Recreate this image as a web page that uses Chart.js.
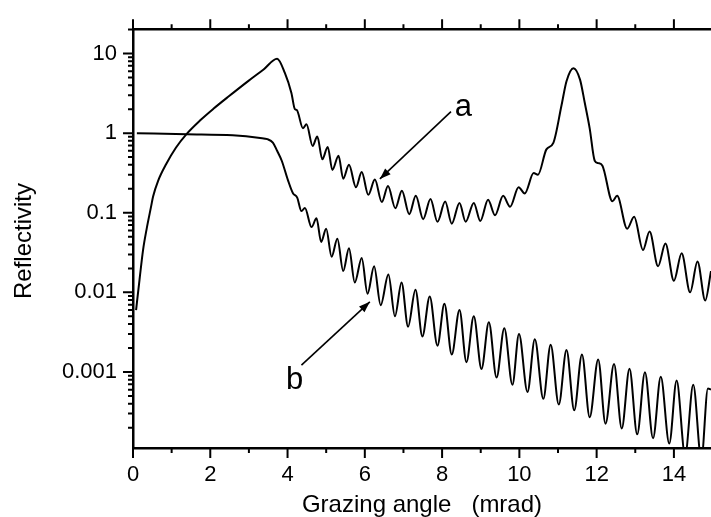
<!DOCTYPE html>
<html>
<head>
<meta charset="utf-8">
<title>Reflectivity vs grazing angle</title>
<script src="https://cdn.jsdelivr.net/npm/chart.js@4.4.1/dist/chart.umd.min.js"></script>
<style>
  html, body { margin: 0; padding: 0; background: #fff; }
  canvas { display: block; }
</style>
</head>
<body>
<canvas id="reflChart" width="711" height="517"></canvas>
<script>
// curve a
const angleA = [0.08, 0.17, 0.26, 0.35, 0.47, 0.52, 0.65, 0.86, 1.11, 1.39, 1.74, 2.08, 2.48, 2.98, 3.38, 3.73,
  3.93, 4.10, 4.19, 4.24, 4.40, 4.49, 4.65, 4.77, 4.90, 5.04, 5.16, 5.32, 5.44, 5.59, 5.77, 5.92, 6.09, 6.26,
  6.44, 6.60, 6.79, 6.96, 7.15, 7.32, 7.51, 7.70, 7.88, 8.08, 8.25, 8.45, 8.61, 8.82, 8.99, 9.19, 9.37, 9.58,
  9.76, 9.98, 10.14, 10.37, 10.48, 10.70, 10.88, 11.09, 11.22, 11.40, 11.57, 11.69, 11.82, 11.95, 12.04, 12.15,
  12.41, 12.53, 12.79, 12.97, 13.20, 13.37, 13.59, 13.78, 14.00, 14.20, 14.42, 14.61, 14.81, 14.96];
const reflA = [0.006, 0.0146, 0.034, 0.0615, 0.121, 0.16, 0.252, 0.41, 0.656, 0.98, 1.45, 2.02, 2.9, 4.5, 6.3, 8.6,
  5.7, 3.2, 2.0, 1.95, 1.15, 1.29, 0.69, 0.91, 0.47, 0.67, 0.345, 0.52, 0.268, 0.40, 0.209, 0.324, 0.168, 0.261,
  0.136, 0.217, 0.114, 0.189, 0.096, 0.163, 0.083, 0.149, 0.077, 0.138, 0.073, 0.133, 0.077, 0.133, 0.079, 0.146, 0.093, 0.163,
  0.119, 0.209, 0.175, 0.315, 0.30, 0.625, 0.755, 2.22, 4.49, 6.55, 4.7, 2.44, 1.15, 0.45, 0.42, 0.39,
  0.139, 0.163, 0.063, 0.089, 0.034, 0.058, 0.0213, 0.041, 0.014, 0.031, 0.01, 0.0245, 0.0079, 0.0185];

// curve b
const angleB = [0.10, 1.39, 2.58, 3.29, 3.48, 3.62, 3.73, 3.85, 4.01, 4.14, 4.25, 4.36, 4.45, 4.62, 4.75, 4.87,
  5.00, 5.14, 5.29, 5.44, 5.59, 5.74, 5.92, 6.07, 6.24, 6.41, 6.61, 6.78, 6.95, 7.12, 7.31, 7.49, 7.68, 7.88,
  8.06, 8.25, 8.45, 8.63, 8.82, 9.02, 9.21, 9.41, 9.61, 9.82, 9.99, 10.21, 10.40, 10.62, 10.81, 11.02, 11.22,
  11.42, 11.62, 11.82, 12.04, 12.23, 12.45, 12.65, 12.85, 13.05, 13.25, 13.46, 13.66, 13.88, 14.07, 14.29,
  14.50, 14.71, 14.88, 14.96];
const reflB = [1.0, 0.97, 0.94, 0.87, 0.84, 0.76, 0.6, 0.45, 0.257, 0.176, 0.155, 0.105, 0.115, 0.066, 0.085, 0.043,
  0.063, 0.028, 0.047, 0.0185, 0.0357, 0.0133, 0.027, 0.0096, 0.0213, 0.0069, 0.0168, 0.005, 0.0133, 0.0037, 0.0108, 0.0028, 0.0089, 0.00214,
  0.0072, 0.00166, 0.006, 0.00133, 0.005, 0.00109, 0.0042, 0.00085, 0.00355, 0.00069, 0.003, 0.00056, 0.00257, 0.00046, 0.0022, 0.00039, 0.00189,
  0.00033, 0.00166, 0.00027, 0.00144, 0.000224, 0.00126, 0.000195, 0.0011, 0.000165, 0.00099, 0.000147, 0.00087, 0.000126, 0.00078, 0.00009,
  0.00069, 0.00008, 0.00062, 0.0006];

// axes
const xLabelTicks = [0, 2, 4, 6, 8, 10, 12, 14];
const yLabelTicks = [10, 1, 0.1, 0.01, 0.001];
const xRange = [0, 14.96];
const yRange = [1.11e-4, 20.2];

// labels with arrows, in data units: [text, x, y, arrowFromX, arrowFromY, arrowToX, arrowToY]
const marks = [
  ['a', 8.33, 1.66, 8.23, 1.86, 6.39, 0.266],
  ['b', 3.96, 0.000607, 4.36, 0.00122, 6.13, 0.0076]
];

const FONT = "'Liberation Sans', Arial, Helvetica, sans-serif";

function arrow(ctx, x0, y0, x1, y1) {
  ctx.beginPath();
  ctx.moveTo(x0, y0);
  ctx.lineTo(x1, y1);
  ctx.stroke();
  const ang = Math.atan2(y1 - y0, x1 - x0);
  const len = 11, half = 4;
  const bx = x1 - len * Math.cos(ang), by = y1 - len * Math.sin(ang);
  ctx.beginPath();
  ctx.moveTo(x1, y1);
  ctx.lineTo(bx + half * Math.sin(ang), by - half * Math.cos(ang));
  ctx.lineTo(bx - half * Math.sin(ang), by + half * Math.cos(ang));
  ctx.closePath();
  ctx.fill();
}

// ticks (major/minor), axis titles and the a/b labels
const frame = {
  id: 'frame',
  afterDraw(chart) {
    const { ctx, chartArea: area, scales } = chart;
    const xs = scales.x, ys = scales.y;
    ctx.save();
    ctx.strokeStyle = '#000';
    ctx.fillStyle = '#000';
    ctx.lineWidth = 2;
    ctx.beginPath();
    for (let v = 0; v <= 15; v++) {
      if (v > xs.max) break;
      const px = xs.getPixelForValue(v);
      const len = v % 2 === 0 ? 10 : 5;
      ctx.moveTo(px, area.bottom); ctx.lineTo(px, area.bottom + len);
      ctx.moveTo(px, area.top); ctx.lineTo(px, area.top - len);
    }
    for (let e = -4; e <= 1; e++) {
      for (let m = 1; m <= 9; m++) {
        const val = m * Math.pow(10, e);
        if (val < ys.min || val > ys.max) continue;
        const py = ys.getPixelForValue(val);
        ctx.moveTo(area.left, py);
        ctx.lineTo(area.left - (m === 1 ? 10 : 5), py);
      }
    }
    ctx.stroke();

    // axis titles
    ctx.font = '24px ' + FONT;
    ctx.textAlign = 'center';
    ctx.textBaseline = 'alphabetic';
    ctx.fillText('Grazing angle   (mrad)', (area.left + area.right) / 2, 512);
    ctx.save();
    ctx.translate(30.5, 241);
    ctx.rotate(-Math.PI / 2);
    ctx.fillText('Reflectivity', 0, 0);
    ctx.restore();

    // a / b labels
    ctx.lineWidth = 1.6;
    ctx.font = '31px ' + FONT;
    ctx.textAlign = 'left';
    marks.forEach(([txt, lx, ly, fx, fy, tx, ty]) => {
      ctx.fillText(txt, xs.getPixelForValue(lx), ys.getPixelForValue(ly));
      arrow(ctx, xs.getPixelForValue(fx), ys.getPixelForValue(fy),
        xs.getPixelForValue(tx), ys.getPixelForValue(ty));
    });
    ctx.restore();
  }
};

const toPoints = (xs, ys) => xs.map((x, i) => ({ x: x, y: ys[i] }));

const lineStyle = {
  borderColor: '#000',
  borderWidth: 2,
  pointRadius: 0,
  fill: false,
  cubicInterpolationMode: 'monotone'
};

new Chart(document.getElementById('reflChart'), {
  type: 'line',
  data: {
    datasets: [
      Object.assign({ label: 'a', data: toPoints(angleA, reflA) }, lineStyle),
      Object.assign({ label: 'b', data: toPoints(angleB, reflB) }, lineStyle)
    ]
  },
  options: {
    responsive: false,
    devicePixelRatio: 1,
    animation: false,
    layout: { padding: 0 },
    plugins: { legend: { display: false }, tooltip: { enabled: false } },
    scales: {
      x: {
        type: 'linear',
        position: 'bottom',
        min: xRange[0],
        max: xRange[1],
        afterBuildTicks: s => { s.ticks = xLabelTicks.map(v => ({ value: v })); },
        afterFit: s => { s.height = 69; },
        ticks: { color: '#000', font: { family: FONT, size: 22 }, padding: 14, autoSkip: false, maxRotation: 0 },
        grid: { drawOnChartArea: false, drawTicks: false },
        border: { display: true, color: '#000', width: 2.5 }
      },
      xTop: {
        type: 'linear',
        position: 'top',
        min: xRange[0],
        max: xRange[1],
        afterFit: s => { s.height = 18; },
        ticks: { display: false },
        grid: { drawOnChartArea: false, drawTicks: false },
        border: { display: true, color: '#000', width: 2.5 }
      },
      y: {
        type: 'logarithmic',
        position: 'left',
        min: yRange[0],
        max: yRange[1],
        afterBuildTicks: s => { s.ticks = yLabelTicks.map(v => ({ value: v })); },
        afterFit: s => { s.width = 133; },
        ticks: {
          color: '#000',
          font: { family: FONT, size: 22 },
          padding: 16,
          autoSkip: false,
          callback: v => String(v)
        },
        grid: { drawOnChartArea: false, drawTicks: false },
        border: { display: true, color: '#000', width: 2.5 }
      }
    }
  },
  plugins: [frame]
});
</script>
</body>
</html>
